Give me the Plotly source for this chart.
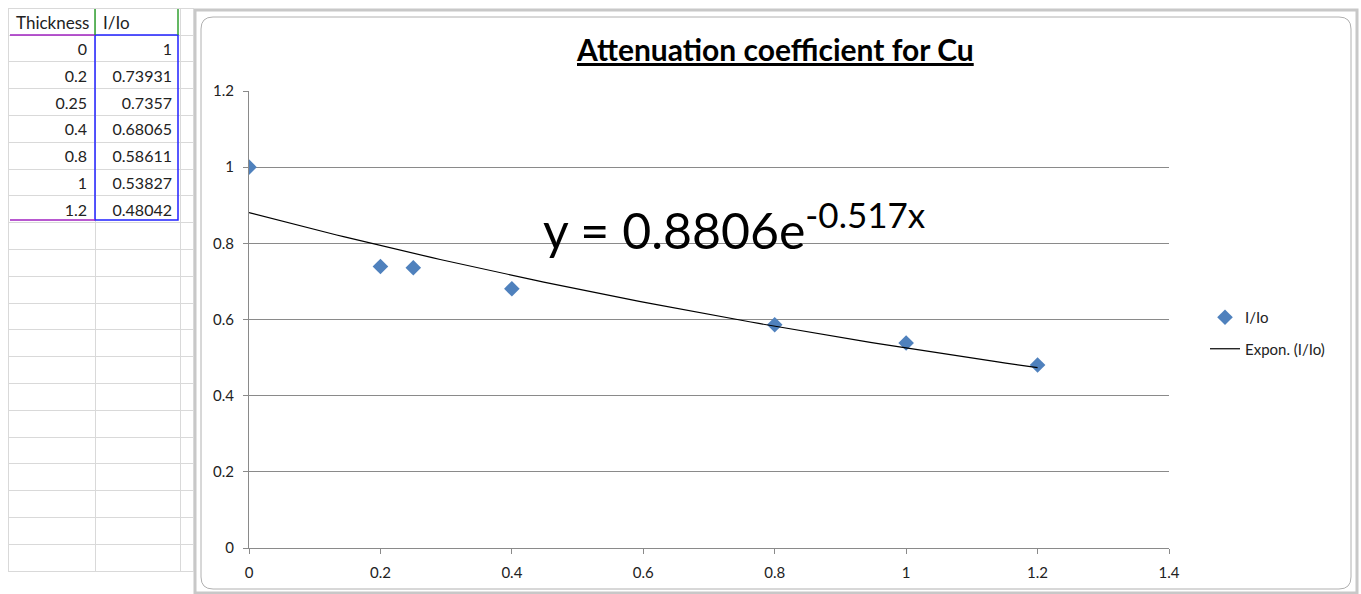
import numpy as np
import plotly.graph_objects as go

# ---- data ----
thickness = [0, 0.2, 0.25, 0.4, 0.8, 1, 1.2]
ratio = [1, 0.73931, 0.7357, 0.68065, 0.58611, 0.53827, 0.48042]
thickness_labels = ["0", "0.2", "0.25", "0.4", "0.8", "1", "1.2"]
ratio_labels = ["1", "0.73931", "0.7357", "0.68065", "0.58611", "0.53827", "0.48042"]
fit_a = 0.8806
fit_b = -0.517
x_ticks = [0, 0.2, 0.4, 0.6, 0.8, 1, 1.2, 1.4]
y_ticks = [0, 0.2, 0.4, 0.6, 0.8, 1, 1.2]

W, H = 1361, 594
def px(x):
    return x / W
def py(y):
    return (H - y) / H

fig = go.Figure()

# spreadsheet table on the left
n_empty = 13
col1 = thickness_labels + [""] * n_empty
col2 = ratio_labels + [""] * n_empty
col3 = [""] * len(col1)
fig.add_trace(go.Table(
    domain=dict(x=[px(8), px(193)], y=[0, py(8)]),
    columnwidth=[87, 85, 13],
    header=dict(values=["Thickness", "I/Io", ""], align="left", height=27,
                fill_color="white", line_color="#d9d9d9",
                font=dict(family="Lato", size=17, color="#222")),
    cells=dict(values=[col1, col2, col3], align="right", height=26.8,
               fill_color="white", line_color="#d9d9d9",
               font=dict(family="Lato", size=16, color="#222")),
))

# fitted trend line (Excel exponential trendline)
xf = np.linspace(min(thickness), max(thickness), 100)
yf = fit_a * np.exp(fit_b * xf)
fig.add_trace(go.Scatter(
    x=thickness, y=ratio, mode="markers", name="I/Io", legendgroup="a",
    marker=dict(symbol="diamond", size=12, color="#4F81BD"),
))
fig.add_trace(go.Scatter(
    x=xf, y=yf, mode="lines", name="Expon. (I/Io)", legendgroup="b",
    line=dict(color="black", width=1.2),
))

axis_font = dict(family="Lato", size=15, color="#222")
fig.update_layout(
    width=W, height=H,
    margin=dict(l=0, r=0, t=0, b=0, pad=0),
    paper_bgcolor="white", plot_bgcolor="rgba(0,0,0,0)",
    xaxis=dict(domain=[px(249), px(1169)], range=[0, 1.4], tickvals=x_ticks,
               ticktext=[f"{v:g}" for v in x_ticks],
               showgrid=False, zeroline=False, showline=True, linecolor="#8a8a8a",
               ticks="outside", ticklen=5, tickcolor="#8a8a8a", tickfont=axis_font,
               ticklabelstandoff=6, fixedrange=True, automargin=False),
    yaxis=dict(domain=[py(548), py(91)], range=[0, 1.2], tickvals=y_ticks,
               ticktext=[f"{v:g}" for v in y_ticks],
               showgrid=True, gridcolor="#8a8a8a", gridwidth=1, zeroline=False,
               showline=True, linecolor="#8a8a8a",
               ticks="outside", ticklen=5, tickcolor="#8a8a8a", tickfont=axis_font,
               ticklabelstandoff=6, fixedrange=True, automargin=False),
    legend=dict(x=px(1205), y=py(301), xanchor="left", yanchor="top",
                font=dict(family="Lato", size=15, color="#222"),
                bgcolor="rgba(0,0,0,0)", itemwidth=30, tracegroupgap=9),
    showlegend=True,
)

# title
fig.add_annotation(x=px(775), y=py(49), xref="paper", yref="paper",
                   xanchor="center", yanchor="middle",
                   text="<b><u>Attenuation coefficient for Cu</u></b>",
                   showarrow=False, font=dict(family="Lato", size=30, color="black"))
# equation label
fig.add_annotation(x=px(541), y=py(226), xref="paper", yref="paper",
                   xanchor="left", yanchor="middle",
                   text=f"y = {fit_a}e<sup>{fit_b}x</sup>",
                   showarrow=False, font=dict(family="Lato", size=50, color="black"))

# chart outer frame and rounded chart area
fig.add_shape(type="rect", xref="paper", yref="paper",
              x0=px(195), x1=px(1357), y0=py(593), y1=py(10),
              line=dict(color="#c8c8c8", width=3), fillcolor="white", layer="below")
r = 12
x0, x1, y0, y1 = 201, 1351, 17, 589
path = (f"M {px(x0+r)},{py(y0)} L {px(x1-r)},{py(y0)} Q {px(x1)},{py(y0)} {px(x1)},{py(y0+r)} "
        f"L {px(x1)},{py(y1-r)} Q {px(x1)},{py(y1)} {px(x1-r)},{py(y1)} "
        f"L {px(x0+r)},{py(y1)} Q {px(x0)},{py(y1)} {px(x0)},{py(y1-r)} "
        f"L {px(x0)},{py(y0+r)} Q {px(x0)},{py(y0)} {px(x0+r)},{py(y0)} Z")
fig.add_shape(type="path", xref="paper", yref="paper", path=path,
              line=dict(color="#b0b0b0", width=1), fillcolor="white", layer="below")

# selection outlines in the spreadsheet
fig.add_shape(type="rect", xref="paper", yref="paper",
              x0=px(95), x1=px(178), y0=py(220), y1=py(35),
              line=dict(color="#2020ff", width=1.5))
for yy in (35, 220):
    fig.add_shape(type="line", xref="paper", yref="paper",
                  x0=px(10), x1=px(95), y0=py(yy), y1=py(yy),
                  line=dict(color="#a020c0", width=1.5))
for xx in (95, 178):
    fig.add_shape(type="line", xref="paper", yref="paper",
                  x0=px(xx), x1=px(xx), y0=py(35), y1=py(9),
                  line=dict(color="#30a030", width=1.5))

fig.write_html("out.html", config={"displayModeBar": False},
               post_script="document.body.style.margin='0';document.body.style.overflow='hidden';")
